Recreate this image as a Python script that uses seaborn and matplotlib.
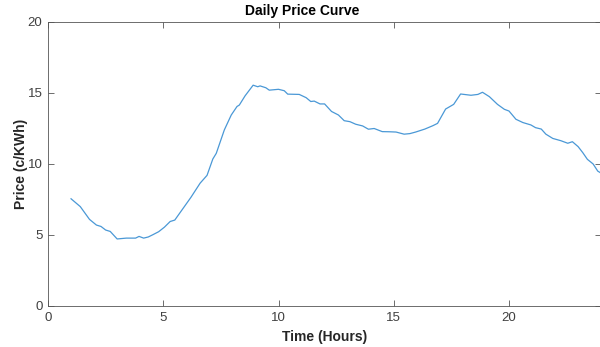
import seaborn as sns
import matplotlib.pyplot as plt
import numpy as np

# hourly price readings (c/KWh)
hours = [1.0, 1.4, 1.8, 2.1, 2.3, 2.5, 2.7, 3.0, 3.4, 3.8, 3.95, 4.15, 4.35, 4.55,
         4.8, 5.05, 5.3, 5.5, 5.85, 6.2, 6.6, 6.9, 7.15, 7.3, 7.65, 7.95, 8.2, 8.3,
         8.55, 8.9, 9.1, 9.2, 9.45, 9.6, 10.0, 10.25, 10.4, 10.9, 11.2, 11.4, 11.55,
         11.8, 12.0, 12.3, 12.6, 12.85, 13.1, 13.35, 13.65, 13.9, 14.15, 14.5, 14.8,
         15.1, 15.45, 15.7, 15.95, 16.35, 16.7, 16.9, 17.25, 17.6, 17.9, 18.35, 18.65,
         18.85, 19.15, 19.5, 19.8, 20.0, 20.3, 20.6, 20.95, 21.15, 21.4, 21.6, 21.9,
         22.25, 22.55, 22.75, 23.0, 23.2, 23.4, 23.65, 23.85, 24.0]
price = [7.55, 7.0, 6.1, 5.7, 5.6, 5.35, 5.25, 4.72, 4.78, 4.78, 4.9, 4.78, 4.86, 5.02,
         5.23, 5.55, 5.95, 6.05, 6.85, 7.65, 8.65, 9.2, 10.35, 10.75, 12.4, 13.45, 14.05,
         14.15, 14.8, 15.55, 15.44, 15.5, 15.37, 15.2, 15.26, 15.16, 14.92, 14.9, 14.67,
         14.4, 14.43, 14.23, 14.23, 13.7, 13.45, 13.05, 12.98, 12.8, 12.68, 12.45, 12.5,
         12.28, 12.27, 12.25, 12.1, 12.14, 12.25, 12.46, 12.7, 12.86, 13.87, 14.2, 14.93,
         14.84, 14.9, 15.05, 14.74, 14.2, 13.85, 13.73, 13.15, 12.92, 12.75, 12.56, 12.46,
         12.1, 11.8, 11.64, 11.46, 11.57, 11.22, 10.8, 10.33, 10.0, 9.5, 9.35]

plt.rcParams['font.family'] = ['Liberation Sans', 'DejaVu Sans']

fig = plt.figure(figsize=(6, 3.47), dpi=100)
ax = fig.add_axes([0.08, 0.1182, 0.922, 0.8184])

sns.lineplot(x=hours, y=price, ax=ax, color='#4a98d6', linewidth=0.9)

ax.set_xlim(0, 24)
ax.set_ylim(0, 20)
ax.set_xticks([0, 5, 10, 15, 20])
ax.set_yticks([0, 5, 10, 15, 20])
ax.tick_params(direction='in', length=4, width=0.6, color='#555555',
               labelcolor='#404040', labelsize=9.5, top=True, right=True, pad=4)
for s in ax.spines.values():
    s.set_color('#555555')
    s.set_linewidth(0.6)

ax.set_xlabel('Time (Hours)', fontsize=10, fontweight='bold', color='#262626', labelpad=5)
ax.set_ylabel('Price (c/KWh)', fontsize=10, fontweight='bold', color='#262626', labelpad=0)
ax.set_title('Daily Price Curve', fontsize=10, fontweight='bold', x=0.459, pad=5)

fig.savefig('out.png', dpi=100)
